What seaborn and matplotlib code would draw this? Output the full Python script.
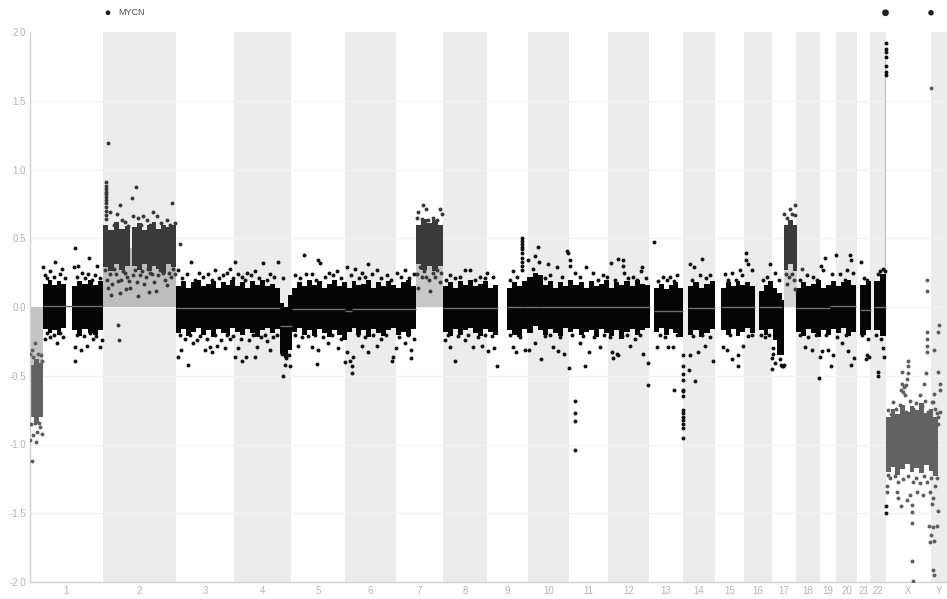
import matplotlib
matplotlib.use("Agg")
import matplotlib.pyplot as plt
import seaborn as sns
import pandas as pd
import numpy as np

# chromosome layout on the genome axis
chroms = ["1", "2", "3", "4", "5", "6", "7", "8", "9", "10", "11", "12", "13", "14",
          "15", "16", "17", "18", "19", "20", "21", "22", "X", "Y"]
chrom_sizes = [72.5, 73.5, 58, 57, 54, 51, 47, 44, 41, 41, 39, 41, 34, 32, 29, 28, 24, 24, 16, 21, 13, 16, 45, 16]
y_ticks = [2.0, 1.5, 1.0, 0.5, 0.0, -0.5, -1.0, -1.5, -2.0]

# solid part of the clouds: start, end, tops per bin, bottoms per bin
core_normal = [
    (13, 36, [.17, .2, .16, .19, .17], [-.16, -.19, -.17, -.2, -.15]),
    (42, 73, [.15, .19, .17, .2, .16, .19], [-.17, -.21, -.16, -.19, -.2, -.17]),
    (146, 250, [.15, .19, .14, .18, .2, .15, .17, .19, .14, .18, .16, .2, .15, .18, .14, .19, .16, .2, .15, .17, .14],
     [-.19, -.16, -.21, -.18, -.15, -.2, -.17, -.22, -.16, -.19, -.21, -.15, -.18, -.2, -.16, -.19, -.22, -.17, -.15, -.19, -.16]),
    (250, 262, [.03, .0, .09], [-.34, -.37, -.31]),
    (262, 386, [.14, .18, .15, .2, .16, .19, .14, .17, .2, .15, .18, .14, .19, .16, .17, .2, .14, .18, .15, .19, .16, .14, .18, .2, .15],
     [-.18, -.15, -.2, -.17, -.21, -.16, -.19, -.22, -.17, -.2, -.24, -.18, -.15, -.2, -.17, -.22, -.16, -.19, -.21, -.17, -.15, -.2, -.18, -.21, -.16]),
    (413, 468, [.15, .18, .14, .19, .16, .2, .15, .17, .19, .14, .16],
     [-.18, -.21, -.16, -.2, -.17, -.15, -.19, -.21, -.16, -.18, -.2]),
    (477, 620, [.14, .18, .15, .19, .22, .25, .23, .16, .19, .14, .18, .15, .2, .16, .18, .14, .19, .15, .17, .2, .14, .18, .16, .19, .15, .2, .17, .16],
     [-.17, -.2, -.22, -.16, -.19, -.14, -.17, -.2, -.16, -.19, -.21, -.15, -.18, -.16, -.2, -.18, -.17, -.22, -.16, -.19, -.21, -.17, -.23, -.18, -.16, -.2, -.17, -.15]),
    (624, 653, [.14, .17, .13, .16, .18, .14], [-.18, -.15, -.2, -.16, -.19, -.22]),
    (658, 685, [.15, .18, .14, .17, .19], [-.2, -.17, -.22, -.19, -.16]),
    (691, 725, [.14, .18, .15, .19, .16, .18, .15], [-.17, -.2, -.16, -.21, -.18, -.15, -.19]),
    (729, 752, [.12, .16, .19, .14, .1], [-.17, -.2, -.16, -.24, -.28]),
    (747, 754, [.05], [-.35]),
    (766, 826, [.14, .18, .15, .17, .2, .14, .16, .19, .15, .18, .2, .16], [-.18, -.21, -.16, -.19, -.22, -.17, -.2, -.16, -.19, -.15, -.21, -.18]),
    (830, 841, [.16, .19], [-.2, -.17]),
    (844, 856, [.19, .24], [-.17, -.21]),
]
core_gain = [
    (73, 100, [.6, .56, .62, .57, .59], [.29, .26, .31, .27, .3]),
    (102, 146, [.58, .61, .56, .6, .62, .57, .6, .58, .6], [.3, .27, .31, .26, .3, .28, .25, .31, .29]),
    (386, 413, [.6, .64, .61, .63, .6], [.31, .27, .3, .26, .3]),
    (754, 767, [.6, .63, .6], [.27, .31, .26]),
]
core_loss = [
    (0, 13, [-.42, -.38, -.41], [-.8, -.84, -.8]),
    (856, 908, [-.8, -.74, -.78, -.71, -.76, -.72, -.75, -.7, -.77, -.74, -.8],
     [-1.2, -1.16, -1.22, -1.18, -1.14, -1.2, -1.17, -1.21, -1.15, -1.19, -1.23]),
]

# copy number shading from zero to the segment value
fill_segments = [(0, 13, -.6), (73, 146, .43), (386, 413, .43), (754, 767, .45), (855, 856, 1.8)]
fill_colors = ["#c4c4c4", "#bdbdbd", "#c8c8c8", "#d4d4d4", "#bbbbbb"]

# segment medians
median_segments = [(13, 73, .01), (146, 250, -.01), (250, 262, -.14), (262, 315, -.015), (315, 322, -.03),
                   (322, 386, -.015), (413, 468, -.01), (477, 495, .0), (495, 510, .0), (510, 620, .0),
                   (624, 653, -.03), (658, 685, -.01), (691, 725, .0), (729, 752, .0), (766, 800, -.01),
                   (800, 826, .01), (830, 841, -.02), (844, 856, .0)]

pts_black = [
    (12.7, .29), (25, .33), (45, .43), (59, .355), (48, .30), (67, .30), (32, .28), (20, .26), (15, .23), (30, .24),
    (44, .29), (52, .25), (58, .24), (65, .23), (70, .21), (17, .21), (24, .22), (35, .21), (47, .22), (55, .21), (62, .2),
    (148, .27), (161, .33), (185, .27), (200, .28), (205, .33), (233, .32), (248, .33), (225, .26), (217, .25), (173, .22),
    (193, .23), (212, .22), (240, .24), (253, .21), (152, .21), (157, .24), (165, .2), (169, .25), (178, .24), (182, .2),
    (189, .21), (197, .25), (203, .21), (208, .24), (215, .2), (221, .23), (229, .21), (237, .2), (244, .22),
    (274, .38), (288, .34), (290, .32), (265, .23), (282, .24), (295, .22), (307, .26), (317, .29), (325, .28), (338, .31),
    (347, .27), (367, .25), (375, .27), (357, .23), (332, .25), (303, .23), (270, .21), (276, .24), (286, .2), (299, .25),
    (311, .21), (321, .23), (329, .21), (335, .22), (342, .24), (351, .21), (361, .2), (371, .22), (379, .21), (384, .24),
    (435, .27), (440, .27), (420, .23), (430, .22), (457, .25), (463, .22), (450, .22), (416, .2), (425, .21), (445, .2), (455, .21),
    (492, .50), (492, .48), (492, .46), (492, .44), (492, .42), (492, .39), (492, .36), (492, .33), (492, .30), (492, .27),
    (483, .26), (498, .34), (505, .37), (508, .44), (509, .33), (503, .28), (480, .2), (487, .22),
    (518, .31), (527, .29), (537, .41), (538, .39), (540, .34), (540, .30), (545, .25), (520, .23), (556, .29), (563, .25),
    (573, .23), (581, .32), (588, .35), (593, .34), (593, .30), (594, .25), (612, .29), (611, .26), (603, .22), (515, .21),
    (532, .22), (550, .22), (568, .2), (577, .22), (585, .2), (598, .21), (607, .2), (616, .21),
    (624, .47), (633, .22), (647, .23), (640, .22), (628, .19), (637, .2), (644, .19),
    (660, .31), (664, .29), (672, .35), (680, .23), (670, .23), (676, .21), (662, .2),
    (695, .24), (702, .25), (710, .27), (716, .39), (716, .34), (718, .31), (722, .27), (712, .23), (698, .2), (706, .2),
    (740, .31), (745, .25), (733, .2), (737, .22), (749, .2),
    (791, .30), (795, .36), (793, .27), (777, .23), (783, .22), (770, .2), (787, .2), (806, .38), (802, .24), (810, .24),
    (820, .38), (821, .34), (817, .27), (823, .25), (831, .33), (837, .2), (815, .2), (834, .21),
    (853, .28), (850, .26), (855, .26), (848, .24), (852, .22),
    (856, 1.92), (856, 1.88), (856, 1.855), (856, 1.815), (856, 1.75), (856, 1.71), (856, 1.69),
    (15, -.23), (20, -.22), (27, -.26), (33, -.22), (45, -.39), (51, -.31), (57, -.28), (45, -.29), (70, -.29), (72, -.24),
    (63, -.23), (17, -.19), (24, -.2), (30, -.19), (47, -.2), (54, -.21), (60, -.19), (66, -.21),
    (148, -.36), (151, -.31), (158, -.42), (163, -.26), (175, -.31), (182, -.33), (180, -.29), (187, -.28), (195, -.30),
    (205, -.36), (212, -.39), (216, -.36), (225, -.36), (208, -.30), (227, -.29), (237, -.25), (240, -.31), (167, -.24),
    (200, -.23), (150, -.2), (155, -.23), (160, -.2), (170, -.21), (177, -.23), (185, -.2), (191, -.24), (197, -.2),
    (203, -.21), (211, -.23), (219, -.24), (223, -.2), (231, -.22), (235, -.2), (243, -.22), (247, -.2),
    (253, -.50), (255, -.42), (260, -.43), (256, -.37), (252, -.34), (259, -.35),
    (287, -.415), (268, -.28), (282, -.29), (288, -.31), (298, -.26), (308, -.30), (315, -.40), (320, -.39), (322, -.43),
    (322, -.48), (317, -.33), (323, -.36), (265, -.2), (272, -.22), (278, -.21), (285, -.2), (293, -.22), (302, -.2), (311, -.23),
    (332, -.28), (338, -.33), (347, -.28), (362, -.39), (363, -.36), (366, -.30), (375, -.26), (381, -.31), (381, -.37),
    (328, -.2), (335, -.22), (343, -.2), (351, -.23), (356, -.2), (369, -.22), (378, -.2), (384, -.23),
    (415, -.24), (420, -.29), (425, -.39), (435, -.24), (443, -.29), (452, -.28), (458, -.32), (464, -.30), (467, -.43),
    (418, -.2), (428, -.21), (438, -.2), (448, -.22), (455, -.2), (462, -.21),
    (486, -.33), (483, -.29), (495, -.31), (499, -.31), (511, -.38), (505, -.26), (480, -.2), (490, -.22), (515, -.21),
    (523, -.29), (528, -.32), (534, -.34), (539, -.44), (545, -.68), (545, -.77), (545, -.83), (545, -1.04), (555, -.43),
    (559, -.33), (550, -.26), (520, -.2), (530, -.22), (542, -.2), (553, -.21), (564, -.22),
    (582, -.33), (583, -.37), (587, -.34), (588, -.35), (613, -.34), (618, -.41), (618, -.57), (570, -.29), (600, -.28),
    (574, -.2), (580, -.22), (592, -.21), (597, -.2), (605, -.23), (610, -.2),
    (627, -.29), (638, -.29), (643, -.29), (644, -.60), (653, -.60), (653, -.35), (653, -.43), (653, -.49), (653, -.53),
    (653, -.61), (653, -.65), (653, -.75), (653, -.77), (653, -.80), (653, -.82), (653, -.85), (653, -.88), (653, -.95),
    (630, -.2), (635, -.22), (647, -.2), (659, -.46), (665, -.54), (660, -.35), (668, -.33), (683, -.39), (675, -.28),
    (663, -.21), (672, -.2), (680, -.22),
    (697, -.31), (702, -.38), (708, -.35), (708, -.43), (693, -.29), (713, -.28), (700, -.2), (718, -.21), (722, -.2),
    (742, -.45), (745, -.41), (742, -.37), (743, -.34), (743, -.3), (735, -.22), (739, -.2), (731, -.2),
    (752, -.43), (753, -.43), (754, -.42), (751, -.42), (750, -.38),
    (775, -.29), (782, -.31), (790, -.36), (789, -.515), (792, -.32), (770, -.2), (778, -.22), (786, -.2),
    (801, -.43), (803, -.35), (798, -.31), (796, -.2), (807, -.22), (818, -.32), (821, -.42), (824, -.37), (812, -.26), (816, -.2),
    (837, -.35), (836, -.38), (839, -.36), (832, -.2), (838, -.23),
    (848, -.47), (848, -.50), (854, -.36), (856, -1.45), (856, -1.495), (853, -.3), (846, -.2), (851, -.23),
]
pts_gain = [
    (78, 1.19), (76, .91), (76, .88), (76, .86), (76, .84), (76, .82), (76, .80), (76, .78), (76, .76), (76, .73), (76, .70),
    (76, .67), (76, .64), (106, .87), (102, .79), (90, .74), (142, .76), (150, .46), (123, .69), (127, .66), (87, .68), (80, .69),
    (103, .66), (113, .66), (137, .63), (108, .65), (117, .63), (145, .61), (92, .63), (98, .59), (84, .6), (95, .62),
    (111, .6), (120, .6), (131, .61), (140, .6), (88, -.13), (89, -.24),
    (75, .27), (80, .24), (84, .28), (88, .19), (93, .26), (97, .22), (100, .14), (105, .27), (110, .23), (114, .17),
    (118, .28), (122, .24), (126, .12), (130, .27), (135, .2), (139, .25), (143, .28), (78, .14), (90, .1), (108, .08),
    (77, .2), (82, .17), (86, .24), (91, .2), (95, .25), (99, .19), (103, .23), (107, .18), (112, .26), (116, .22),
    (120, .25), (124, .18), (128, .23), (133, .25), (137, .16), (141, .22), (145, .24), (81, .09), (96, .13), (119, .11),
    (393, .74), (396, .71), (410, .71), (388, .69), (387, .65), (403, .65), (412, .68), (398, .63), (392, .64), (407, .63),
    (390, .29), (403, .25), (396, .22), (388, .14), (410, .18), (400, .12), (394, .26), (407, .27), (392, .22), (399, .2),
    (405, .22), (411, .25), (387, .24),
    (765, .74), (760, .71), (754, .68), (765, .67), (762, .68), (757, .65), (772, .28), (762, .24), (757, .17), (765, .13),
    (759, .22), (764, .2), (756, .24),
]
pts_loss = [
    (5, -.26), (2, -.31), (0, -.34), (8, -.34), (11, -.35), (3, -.36), (12, -.39), (10, -.87), (7, -.91), (12, -.92),
    (3, -.93), (0, -.97), (6, -.98), (2, -1.12), (1, -.85), (5, -.84), (9, -.84),
    (878, -.39), (878, -.43), (872, -.47), (878, -.48), (872, -.56), (877, -.52), (873, -.62), (875, -.64), (863, -.69),
    (890, -.64), (895, -.68), (902, -.69), (858, -.75), (870, -.71), (883, -.74), (898, -.76), (874, -.58), (876, -.57),
    (871, -.6), (880, -.68), (886, -.7), (892, -.72), (866, -.74), (861, -.78), (905, -.74), (908, -.8), (876, -.76), (889, -.78),
    (897, -.18), (897, -.23), (897, -.28), (897, -.33), (909, -.13), (908, -.18), (904, -.31), (908, -.47), (896, -.48),
    (894, -.56), (910, -.56), (910, -.60), (904, -.63), (903, -.69), (910, -.76), (907, -.77), (908, -.85),
    (857, -1.30), (857, -1.345), (867, -1.345), (868, -1.39), (871, -1.45), (877, -1.405), (880, -1.37), (887, -1.345),
    (893, -1.37), (900, -1.345), (903, -1.39), (902, -1.43), (882, -1.44), (882, -1.49), (882, -1.57), (908, -1.485),
    (899, -1.59), (903, -1.60), (907, -1.59), (901, -1.66), (904, -1.70), (900, -1.71), (882, -1.85), (903, -1.91),
    (904, -1.95), (883, -1.99), (860, -1.24), (868, -1.27), (873, -1.25), (883, -1.27), (890, -1.28), (897, -1.27),
    (905, -1.3), (907, -1.24), (858, -1.22), (865, -1.23), (878, -1.23), (886, -1.24), (894, -1.23), (901, -1.24),
    (901, 1.59), (897, .20), (897, .12),
]

# gene markers above the plot
gene_markers = [(78, 2.14), (855.5, 2.14), (901, 2.14)]
gene_sizes = [12, 24, 16]

sns.set_style("white")
plt.rcParams["font.family"] = ["Liberation Sans", "DejaVu Sans"]

fig = plt.figure(figsize=(9.47, 5.99), dpi=100)
ax = fig.add_axes([30 / 947, 17 / 599, 917 / 947, 550 / 599])

edges = np.concatenate([[0], np.cumsum(chrom_sizes)])
centers = (edges[:-1] + edges[1:]) / 2

for i in range(1, len(chroms), 2):
    ax.axvspan(edges[i], edges[i + 1], color="#ececec", lw=0, zorder=0)
for v in y_ticks[1:-1]:
    ax.axhline(v, color="#f3f3f3", lw=1, zorder=0.5)

for (x0, x1, v), c in zip(fill_segments, fill_colors):
    ax.fill_between([x0, x1], 0, v, color=c, lw=0, zorder=1)

# stepped outline so the dense clouds do not end in straight edges
for runs, c in [(core_normal, "#050505"), (core_gain, "#3a3a3a"), (core_loss, "#626262")]:
    for x0, x1, tops, bottoms in runs:
        xs = np.linspace(x0, x1, len(tops) + 1)
        ax.fill_between(xs, bottoms + bottoms[-1:], tops + tops[-1:], step="post", color=c, lw=0, zorder=2)

for pts, c in [(pts_black, "#111111"), (pts_gain, "#3a3a3a"), (pts_loss, "#5f5f5f")]:
    df = pd.DataFrame(pts, columns=["pos", "log2"])
    sns.scatterplot(data=df, x="pos", y="log2", color=c, s=8, linewidth=0, ax=ax, zorder=3)

for x0, x1, v in median_segments:
    ax.hlines(v, x0, x1, color="#6e6e6e", lw=1, zorder=4)

markers = pd.DataFrame(gene_markers, columns=["pos", "log2"])
markers["size"] = gene_sizes
ax.scatter(markers["pos"], markers["log2"], s=markers["size"], color="#222222", linewidth=0, clip_on=False, zorder=5)
ax.text(88, 2.14, "MYCN", fontsize=6.5, color="#555555", va="center", clip_on=False)

ax.set_xlim(0, edges[-1])
ax.set_ylim(-2, 2)
ax.set_xticks(centers)
ax.set_xticklabels(chroms)
ax.set_yticks(y_ticks)
ax.set_yticklabels([f"{v:.1f}" for v in y_ticks])
ax.tick_params(axis="both", length=0, labelsize=7, labelcolor="#b4b4b4", pad=3)
ax.set_xlabel("")
ax.set_ylabel("")
for s in ["top", "right"]:
    ax.spines[s].set_visible(False)
for s in ["left", "bottom"]:
    ax.spines[s].set_color("#d2d2d2")
    ax.spines[s].set_linewidth(1)

fig.savefig("out.png", dpi=100)
